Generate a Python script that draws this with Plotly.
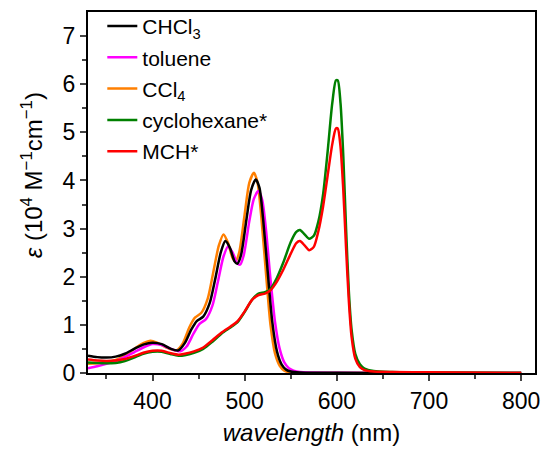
import plotly.graph_objects as go

# ---- data ----
wl_chcl3 = [330, 340, 350, 360, 370, 380, 390, 400, 410, 420, 428, 435, 442, 448, 455, 462, 468, 474, 479, 484, 489, 492, 496, 502, 507, 512, 516, 520, 525, 530, 535, 540, 545, 550, 560, 600, 700, 800]
eps_chcl3 = [0.36, 0.33, 0.32, 0.34, 0.40, 0.50, 0.59, 0.63, 0.60, 0.50, 0.47, 0.62, 0.90, 1.08, 1.17, 1.45, 1.95, 2.50, 2.74, 2.60, 2.32, 2.27, 2.45, 3.20, 3.80, 4.02, 3.85, 3.20, 2.10, 1.05, 0.45, 0.18, 0.07, 0.03, 0.01, 0.005, 0.0, 0.0]

wl_tol = [330, 340, 350, 360, 370, 380, 390, 400, 410, 420, 430, 437, 444, 451, 458, 465, 471, 477, 482, 487, 492, 495, 499, 505, 510, 515, 519, 523, 528, 533, 538, 543, 548, 553, 560, 600, 700, 800]
eps_tol = [0.10, 0.14, 0.19, 0.25, 0.33, 0.43, 0.53, 0.60, 0.58, 0.50, 0.45, 0.55, 0.80, 1.02, 1.12, 1.40, 1.90, 2.42, 2.63, 2.50, 2.28, 2.25, 2.45, 3.15, 3.62, 3.78, 3.60, 3.00, 1.95, 1.05, 0.50, 0.22, 0.10, 0.05, 0.02, 0.005, 0.0, 0.0]

wl_ccl4 = [330, 340, 350, 360, 370, 380, 390, 398, 405, 415, 426, 433, 440, 446, 453, 460, 466, 472, 477, 482, 487, 490, 494, 500, 505, 510, 514, 518, 523, 528, 533, 538, 543, 550, 600, 700, 800]
eps_ccl4 = [0.19, 0.20, 0.22, 0.27, 0.36, 0.50, 0.62, 0.67, 0.63, 0.53, 0.47, 0.62, 0.95, 1.15, 1.25, 1.55, 2.10, 2.65, 2.88, 2.70, 2.38, 2.32, 2.50, 3.30, 3.95, 4.16, 3.95, 3.25, 2.10, 1.00, 0.40, 0.15, 0.05, 0.01, 0.0, 0.0, 0.0]

wl_chx = [330, 340, 350, 360, 370, 380, 390, 400, 410, 420, 428, 435, 445, 455, 465, 475, 485, 492, 500, 508, 515, 522, 528, 535, 542, 550, 556, 560, 565, 570, 575, 580, 585, 590, 595, 599, 601, 604, 607, 610, 613, 616, 620, 625, 630, 640, 660, 700, 800]
eps_chx = [0.22, 0.21, 0.20, 0.21, 0.25, 0.32, 0.40, 0.44, 0.44, 0.39, 0.36, 0.37, 0.42, 0.50, 0.65, 0.82, 0.95, 1.05, 1.27, 1.52, 1.65, 1.68, 1.75, 1.98, 2.30, 2.72, 2.93, 2.97, 2.88, 2.79, 2.85, 3.15, 3.70, 4.60, 5.60, 6.08, 6.08, 5.60, 4.50, 3.00, 1.70, 0.90, 0.40, 0.18, 0.09, 0.04, 0.02, 0.01, 0.0]

wl_mch = [330, 340, 350, 360, 370, 380, 390, 400, 410, 420, 428, 435, 445, 455, 465, 475, 485, 492, 500, 508, 515, 522, 528, 535, 542, 550, 556, 560, 565, 570, 575, 580, 585, 590, 595, 599, 601, 604, 607, 610, 613, 616, 620, 625, 630, 640, 660, 700, 800]
eps_mch = [0.28, 0.26, 0.25, 0.26, 0.29, 0.35, 0.42, 0.46, 0.46, 0.41, 0.38, 0.40, 0.45, 0.53, 0.68, 0.84, 0.97, 1.07, 1.28, 1.52, 1.62, 1.65, 1.72, 1.90, 2.15, 2.48, 2.70, 2.74, 2.65, 2.55, 2.62, 2.95, 3.45, 4.10, 4.75, 5.08, 5.08, 4.70, 3.80, 2.60, 1.50, 0.75, 0.30, 0.12, 0.06, 0.03, 0.02, 0.015, 0.0]

series = [
    ("CHCl<sub>3</sub>", wl_chcl3, eps_chcl3, "#000000"),
    ("toluene", wl_tol, eps_tol, "#FF00FF"),
    ("CCl<sub>4</sub>", wl_ccl4, eps_ccl4, "#FF7F00"),
    ("cyclohexane*", wl_chx, eps_chx, "#008000"),
    ("MCH*", wl_mch, eps_mch, "#FF0000"),
]

x_ticks = [400, 500, 600, 700, 800]
y_ticks = [0, 1, 2, 3, 4, 5, 6, 7]

FONT = "Liberation Sans, Arial, sans-serif"

fig = go.Figure()
traces = []
for i, (name, x, y, c) in enumerate(series):
    traces.append(go.Scatter(
        x=x, y=y, name=name, mode="lines",
        line=dict(color=c, width=2.5, shape="spline", smoothing=0.7),
        legendgroup=name, legendrank=i + 1,
    ))
# drawing order: toluene and CCl4 below CHCl3; cyclohexane below MCH
for k in [2, 1, 0, 3, 4]:
    fig.add_trace(traces[k])

fig.update_layout(
    width=541, height=455,
    margin=dict(l=88, r=6, t=12, b=82, autoexpand=False),
    paper_bgcolor="white", plot_bgcolor="white",
    font=dict(family=FONT, color="black", size=22),
    showlegend=True,
    legend=dict(
        x=0.032, y=1.017, xanchor="left", yanchor="top",
        bgcolor="rgba(0,0,0,0)", borderwidth=0,
        font=dict(family=FONT, size=21, color="black"),
        traceorder="grouped", tracegroupgap=1,
    ),
    xaxis=dict(
        range=[330, 815], tickvals=x_ticks, ticks="outside", ticklen=6, tickwidth=1.5,
        showline=True, linewidth=2, linecolor="black", mirror=True,
        showgrid=False, zeroline=False, automargin=False,
        tickfont=dict(size=23, family=FONT),
        minor=dict(tickvals=[350, 450, 550, 650, 750], ticks="outside", ticklen=4, tickwidth=1.5, showgrid=False),
        title=dict(text="<i>wavelength</i> (nm)", font=dict(size=24, family=FONT), standoff=12),
    ),
    yaxis=dict(
        range=[0, 7.5], tickvals=y_ticks, ticks="outside", ticklen=6, tickwidth=1.5,
        showline=True, linewidth=2, linecolor="black", mirror=True,
        showgrid=False, zeroline=False, automargin=False,
        tickfont=dict(size=23, family=FONT),
        minor=dict(tickvals=[0.5, 1.5, 2.5, 3.5, 4.5, 5.5, 6.5], ticks="outside", ticklen=4, tickwidth=1.5, showgrid=False),
    ),
)

fig.add_annotation(
    text="<i>ε</i> (10<sup>4</sup> M<sup>−1</sup>cm<sup>−1</sup>)",
    xref="paper", yref="paper", x=-0.125, y=0.548, xanchor="center", yanchor="middle",
    textangle=-90, showarrow=False, font=dict(size=24, family=FONT, color="black"),
)

fig.write_html("out.html")
